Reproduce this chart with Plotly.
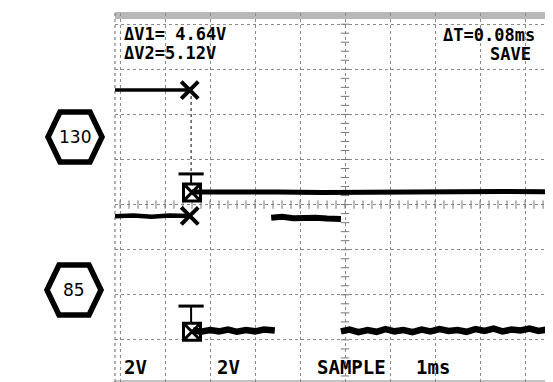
import numpy as np
import plotly.graph_objects as go

# ---- data (oscilloscope divisions: x = time div, y = vertical div from bottom) ----
ch1_ref_x = [-0.12, 1.52]
ch1_ref_y = [6.54, 6.54]
ch1_x = [1.60, 2.5, 3.5, 4.5, 5.5, 6.5, 7.5, 8.5, 9.8]
ch1_y = [4.28, 4.29, 4.28, 4.27, 4.28, 4.29, 4.28, 4.29, 4.28]

ch2_ref_x = [-0.12, 0.3, 0.7, 1.1, 1.52]
ch2_ref_y = [3.74, 3.76, 3.73, 3.76, 3.75]
ch2_low1_x = [1.62, 1.8, 2.0, 2.2, 2.4, 2.6, 2.8, 3.0, 3.2, 3.44]
ch2_low1_y = [1.21, 1.18, 1.22, 1.19, 1.23, 1.18, 1.22, 1.19, 1.23, 1.21]
ch2_high_x = [3.36, 3.6, 3.85, 4.1, 4.35, 4.6, 4.91]
ch2_high_y = [3.71, 3.73, 3.70, 3.72, 3.71, 3.69, 3.68]
ch2_low2_x = [4.91, 5.1, 5.3, 5.5, 5.7, 5.9, 6.1, 6.3, 6.5, 6.7, 6.9, 7.1, 7.3, 7.5, 7.7, 7.9,
              8.1, 8.3, 8.5, 8.7, 8.9, 9.1, 9.3, 9.5, 9.8]
ch2_low2_y = [1.19, 1.23, 1.17, 1.22, 1.18, 1.24, 1.19, 1.22, 1.17, 1.23, 1.19, 1.24, 1.20, 1.22,
              1.18, 1.24, 1.20, 1.25, 1.19, 1.23, 1.21, 1.25, 1.20, 1.23, 1.21]

cursor_x = 1.58
marker_x = [1.55, 1.55]
marker_y = [6.54, 3.75]
box_y = [4.27, 1.18]
tee_top = [4.68, 1.75]

labels_top_left = ["ΔV1= 4.64V", "ΔV2=5.12V"]
labels_top_right = ["ΔT=0.08ms", "SAVE"]
labels_bottom = ["2V", "2V", "SAMPLE", "1ms"]
hex_labels = ["130", "85"]

# ---- geometry ----
W, H = 553, 382
L, R, T, B = 107, 553, 5, 380


def px(p):
    return (p - L) / (R - L)


def py(q):
    return (B - q) / (B - T)


fig = go.Figure()

# center graticule minor ticks
tx = np.arange(0, 10.01, 0.2)
fig.add_trace(go.Scatter(x=tx, y=[4] * len(tx), mode="markers",
                         marker=dict(symbol="line-ns", size=6, line=dict(color="#777", width=1)),
                         hoverinfo="skip", showlegend=False))
ty = np.arange(0, 8.01, 0.2)
fig.add_trace(go.Scatter(x=[5] * len(ty), y=ty, mode="markers",
                         marker=dict(symbol="line-ew", size=6, line=dict(color="#777", width=1)),
                         hoverinfo="skip", showlegend=False))

# cursor vertical
fig.add_trace(go.Scatter(x=[cursor_x, cursor_x], y=[ch1_ref_y[0], tee_top[0]], mode="lines",
                         line=dict(color="black", width=1, dash="dot"), showlegend=False))

# traces
fig.add_trace(go.Scatter(x=ch1_ref_x, y=ch1_ref_y, mode="lines", line=dict(color="black", width=3.5), showlegend=False))
fig.add_trace(go.Scatter(x=ch1_x, y=ch1_y, mode="lines", line=dict(color="black", width=5), showlegend=False))
fig.add_trace(go.Scatter(x=ch2_ref_x, y=ch2_ref_y, mode="lines", line=dict(color="black", width=4.5), showlegend=False))
fig.add_trace(go.Scatter(x=ch2_low1_x, y=ch2_low1_y, mode="lines", line=dict(color="black", width=6.5), showlegend=False))
fig.add_trace(go.Scatter(x=ch2_high_x, y=ch2_high_y, mode="lines", line=dict(color="black", width=6), showlegend=False))
fig.add_trace(go.Scatter(x=ch2_low2_x, y=ch2_low2_y, mode="lines", line=dict(color="black", width=6.5), showlegend=False))

# X markers
fig.add_trace(go.Scatter(x=marker_x, y=marker_y, mode="markers",
                         marker=dict(symbol="x-thin", size=17, line=dict(color="black", width=4)), showlegend=False))
# boxed X markers
fig.add_trace(go.Scatter(x=[cursor_x + 0.02] * 2, y=box_y, mode="markers",
                         marker=dict(symbol="square-x-open", size=17, color="black", line=dict(color="black", width=3)),
                         showlegend=False))
# tee markers
for ty0, tb in zip(tee_top, box_y):
    fig.add_trace(go.Scatter(x=[cursor_x, cursor_x], y=[ty0, tb + 0.18], mode="lines",
                             line=dict(color="black", width=2), showlegend=False))
fig.add_trace(go.Scatter(x=[cursor_x] * 2, y=tee_top, mode="markers",
                         marker=dict(symbol="line-ew", size=18, line=dict(color="black", width=3)), showlegend=False))

shapes = []
# hatched top/bottom bands
shapes.append(dict(type="rect", xref="paper", yref="paper", x0=0, x1=1, y0=py(11), y1=py(4),
                   fillcolor="#b8b8b8", line=dict(width=0), layer="below"))
shapes.append(dict(type="rect", xref="paper", yref="paper", x0=0, x1=1, y0=py(381), y1=py(372),
                   fillcolor="#c4c4c4", line=dict(width=0), layer="below"))
shapes.append(dict(type="line", xref="paper", yref="paper", x0=0, x1=0, y0=0, y1=1,
                   line=dict(color="#666", width=1, dash="dot")))

# hexagons
annotations = []
for (cx, cy), lab in zip([(67, 129), (66, 282)], hex_labels):
    hw, hh, tw = 27, 25, 15
    pts = [(cx - hw, cy), (cx - tw, cy - hh), (cx + tw, cy - hh), (cx + hw, cy), (cx + tw, cy + hh), (cx - tw, cy + hh)]
    path = "M " + " L ".join(f"{px(a):.5f},{py(b):.5f}" for a, b in pts) + " Z"
    shapes.append(dict(type="path", xref="paper", yref="paper", path=path,
                       line=dict(color="black", width=5.5), fillcolor="white"))
    annotations.append(dict(x=px(cx), y=py(cy), xref="paper", yref="paper", text=lab, showarrow=False,
                            font=dict(family="DejaVu Sans", size=17, color="black"),
                            xanchor="center", yanchor="middle"))

mono = dict(family="DejaVu Sans Mono", size=17, color="black", weight="bold")
for txt, (x0, y0) in zip(labels_top_left, [(114, 26), (114, 45)]):
    annotations.append(dict(x=px(x0), y=py(y0), xref="paper", yref="paper", text=txt, showarrow=False,
                            font=mono, xanchor="left", yanchor="middle"))
annotations.append(dict(x=px(433), y=py(27), xref="paper", yref="paper", text=labels_top_right[0], showarrow=False,
                        font=mono, xanchor="left", yanchor="middle"))
annotations.append(dict(x=px(480), y=py(46), xref="paper", yref="paper", text=labels_top_right[1], showarrow=False,
                        font=mono, xanchor="left", yanchor="middle"))
mono_b = dict(family="DejaVu Sans Mono", size=19, color="black", weight="bold")
for txt, x0 in zip(labels_bottom, [114, 207, 307, 406]):
    annotations.append(dict(x=px(x0), y=py(359), xref="paper", yref="paper", text=txt, showarrow=False,
                            font=mono_b, xanchor="left", yanchor="middle"))

fig.update_layout(
    width=W, height=H,
    margin=dict(l=L, r=W - R, t=T, b=H - B),
    paper_bgcolor="white", plot_bgcolor="white",
    shapes=shapes, annotations=annotations,
    showlegend=False,
)
fig.update_xaxes(range=[(L - 112) / 45, (R - 112) / 45], dtick=1, tick0=0, showgrid=True,
                 gridcolor="#8a8a8a", griddash="dot", gridwidth=1, zeroline=False,
                 showticklabels=False, ticks="", showline=False, fixedrange=True)
fig.update_yaxes(range=[(377 - B) / 45.1, (377 - T) / 45.1], dtick=1, tick0=0, showgrid=True,
                 gridcolor="#8a8a8a", griddash="dot", gridwidth=1, zeroline=False,
                 showticklabels=False, ticks="", showline=False, fixedrange=True)

fig.write_html("out.html")
